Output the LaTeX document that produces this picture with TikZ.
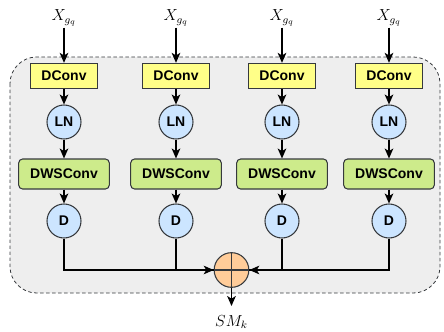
\documentclass[tikz,border=0pt]{standalone}
\usepackage{fontspec}
\setsansfont{Liberation Sans}
\usetikzlibrary{arrows.meta}
\definecolor{strokec}{HTML}{36393D}
\definecolor{yelc}{HTML}{FFFF88}
\definecolor{grnc}{HTML}{CDEB8B}
\definecolor{bluc}{HTML}{CCE5FF}
\definecolor{orgc}{HTML}{FFCC99}
\definecolor{bgc}{HTML}{EEEEEE}
\tikzset{
  arr/.style={-{Stealth[length=7.5pt,width=6.5pt,inset=2pt]}, line width=0.8pt},
  ln/.style={line width=0.8pt},
  dconvbox/.style={draw=strokec, fill=yelc, line width=0.8pt, minimum width=50pt, minimum height=19pt, inner sep=0pt, font=\sffamily\bfseries\fontsize{10.5}{12}\selectfont},
  dwsbox/.style={draw=strokec, fill=grnc, line width=0.8pt, rounded corners=3pt, minimum width=68pt, minimum height=22.5pt, inner sep=0pt, font=\sffamily\bfseries\fontsize{10.5}{12}\selectfont},
  circ/.style={circle, draw=strokec, fill=bluc, line width=0.8pt, minimum size=25.5pt, inner sep=0pt, font=\sffamily\bfseries\fontsize{10.5}{12}\selectfont},
  sumc/.style={circle, draw=strokec, fill=orgc, line width=0.8pt, minimum size=26pt, inner sep=0pt},
  lab/.style={inner sep=1pt, font=\fontsize{12}{14}\selectfont}
}
\begin{document}
\begin{tikzpicture}[x=0.75pt,y=-0.75pt]
\useasboundingbox (0,0) rectangle (444,332);
\draw[draw=strokec, fill=bgc, dash pattern=on 2.5pt off 2pt, line width=0.6pt, rounded corners=20pt] (10,57) rectangle (440,293);
\foreach \i/\x in {1/64,2/176,3/282,4/389}{
  \node[lab] (x\i) at (\x,18) {$X_{g_q}$};
  \node[dconvbox] (dc\i) at (\x,76) {DConv};
  \node[circ] (ln\i) at (\x,122) {LN};
  \node[dwsbox] (dw\i) at (\x,174) {DWSConv};
  \node[circ] (d\i) at (\x,221) {D};
  \draw[arr] (x\i) -- (dc\i);
  \draw[arr] (dc\i) -- (ln\i);
  \draw[arr] (ln\i) -- (dw\i);
  \draw[arr] (dw\i) -- (d\i);
}
\node[sumc] (s) at (231.5,270) {};
\draw[strokec, line width=0.8pt] (s.north) -- (s.south) (s.west) -- (s.east);
\node[lab] (sm) at (231.5,322) {$SM_k$};
\draw[ln] (d1) |- (s.west);
\draw[ln] (d2.south) -- (d2.south |- s.west);
\draw[arr] (d2.south |- s.west) -- (s.west);
\draw[ln] (d4) |- (s.east);
\draw[ln] (d3.south) -- (d3.south |- s.east);
\draw[arr] (d3.south |- s.east) -- (s.east);
\coordinate (smend) at (231.5,306);
\draw[arr] (s) -- (smend);
\end{tikzpicture}
\end{document}
